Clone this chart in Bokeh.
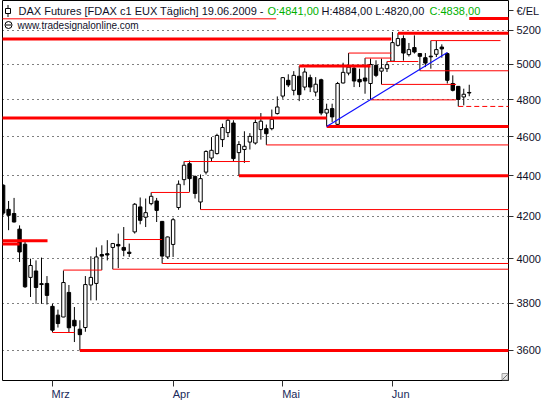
import math
import pandas as pd
from bokeh.plotting import figure
from bokeh.models import Range1d, FixedTicker, Label, ColumnDataSource, LinearAxis
from bokeh.embed import file_html
from bokeh.resources import INLINE

# ---------------- data ----------------
holidays = ["2009-04-10", "2009-04-13", "2009-05-01"]
dates = [d for d in pd.bdate_range("2009-02-17", "2009-06-19")
         if d.strftime("%Y-%m-%d") not in holidays]

opens = [4352, 4233, 4213, 4138, 4067, 3915, 3944, 3887, 3888, 3787,
         3749, 3741, 3848, 3727, 3689, 3696, 3881, 3888, 4019, 4023,
         4052, 4066, 4052, 4030, 4125, 4245, 4195, 4261, 4274, 4175,
         4008, 4066, 4242, 4380, 4461, 4396, 4269, 4418, 4490, 4513,
         4586, 4623, 4674, 4518, 4534, 4573, 4568, 4639, 4644, 4644,
         4725, 4821, 4909, 4853, 4932, 4871, 4924, 4843, 4912, 4728,
         4752, 4667, 4894, 4950, 4978, 4914, 4922, 4891, 4994, 4961,
         4975, 5018, 5110, 5150, 5056, 5097, 5062, 5038, 5047, 5058,
         5100, 5062, 4891, 4875, 4816, 4841]
highs = [4357, 4274, 4289, 4156, 4086, 4000, 3992, 4005, 3921, 3798,
         3773, 3946, 3881, 3784, 3727, 3921, 4011, 4052, 4062, 4086,
         4073, 4117, 4148, 4070, 4264, 4291, 4286, 4316, 4289, 4177,
         4103, 4192, 4376, 4473, 4477, 4401, 4406, 4530, 4599, 4617,
         4671, 4698, 4689, 4578, 4630, 4620, 4693, 4728, 4666, 4747,
         4819, 4927, 4943, 4961, 4990, 4978, 4941, 4927, 4918, 4779,
         4779, 4900, 5009, 5065, 4984, 4975, 5036, 5033, 5023, 5033,
         5016, 5189, 5182, 5169, 5124, 5169, 5064, 5065, 5138, 5136,
         5116, 5068, 4937, 4877, 4862, 4884]
lows = [4204, 4133, 4170, 3985, 3868, 3828, 3798, 3798, 3795, 3676,
        3696, 3740, 3673, 3635, 3600, 3678, 3813, 3813, 3948, 3992,
        3952, 3957, 4011, 4008, 4117, 4161, 4148, 4253, 4172, 3978,
        4000, 4008, 4231, 4352, 4319, 4286, 4232, 4406, 4473, 4508,
        4547, 4599, 4473, 4400, 4465, 4534, 4560, 4586, 4558, 4635,
        4720, 4806, 4871, 4825, 4793, 4853, 4843, 4819, 4716, 4656,
        4680, 4662, 4891, 4937, 4871, 4871, 4834, 4800, 4927, 4886,
        4956, 5016, 5103, 5021, 5045, 5062, 4963, 4984, 4975, 5042,
        5038, 4891, 4847, 4764, 4770, 4820]
closes = [4215, 4204, 4172, 4031, 3873, 3969, 3870, 3883, 3835, 3685,
          3713, 3892, 3695, 3703, 3666, 3883, 3915, 4008, 4012, 4017,
          4070, 4059, 4039, 4024, 4258, 4180, 4217, 4297, 4228, 4012,
          4101, 4183, 4357, 4453, 4385, 4311, 4385, 4524, 4530, 4608,
          4650, 4689, 4487, 4560, 4551, 4603, 4677, 4684, 4617, 4694,
          4761, 4924, 4883, 4937, 4829, 4956, 4871, 4887, 4728, 4748,
          4707, 4891, 4954, 4984, 4905, 4900, 4905, 4999, 4937, 4978,
          4998, 5126, 5150, 5065, 5085, 5071, 5046, 5007, 5043, 5085,
          5089, 4909, 4853, 4802, 4831, 4838]

# support / resistance levels: start bar, end bar, price, style
lvl_start = [-1, 85, -1, 72, 78, 63, 66, 70, 54, 76, 69, 67, 83, -1, 59, 48,
             33, 43, 27, 36, 22, -1, -1, 29, 20, 11, 9, 14]
lvl_end = [49.8, 92.5, 70.8, 92.5, 90.7, 70.8, 70.8, 75.7, 67, 92.5, 82.6, 82.6,
           92.5, 59, 92.5, 92.5, 45, 92.5, 34, 92.5, 29, 8.1, 3, 92.5,
           92.5, 18, 13, 92.5]
lvl_price = [5268, 5270, 5147, 5182, 5138, 5065, 5036, 5016, 4990, 4963, 4886,
             4800, 4764, 4701, 4656, 4558, 4472, 4400, 4316, 4232, 4089,
             4083, 4068, 3978, 3952, 3948, 3675, 3600]
lvl_style = ["thin", "thick", "thick", "thick", "thin", "thin", "thin", "thin",
             "thick", "thin", "thin", "thin", "dash", "thick", "thick",
             "thin", "thin", "thick", "thin", "thin", "thin", "thick",
             "thick", "thin", "thin", "thin", "thin", "thick"]

trend_bar = [59, 81]
trend_price = [4656, 5068]

y_ticks = [3600, 3800, 4000, 4200, 4400, 4600, 4800, 5000, 5200]
month_names = ["Mrz", "Apr", "Mai", "Jun"]
month_nums = [3, 4, 5, 6]

header_main = "DAX Futures [FDAX c1 EUX  Täglich] 19.06.2009 -"
header_open = "O:4841,00"
header_hl = "H:4884,00 L:4820,00"
header_close = "C:4838,00"
header_site = "www.tradesignalonline.com"
unit_label = "€/EL"

# ---------------- layout ----------------
X0, X1 = -0.11, 92.16
Y0, Y1 = 3478.0, 5380.0
FL, FW, FH = 2, 506, 380
FONT = "Liberation Sans"
TXT = "#101028"
LABEL_SHIFT = 1.5       # month names sit right of their tick
UNIT_POS = 5318         # y position of the unit caption on the price axis


def px2x(px):
    return X0 + (px - FL) / FW * (X1 - X0)


def py2y(py):
    return Y1 * math.exp(-py / FH * math.log(Y1 / Y0))


idx = list(range(len(dates)))
month_ticks = [next(i for i, d in enumerate(dates) if d.month == m) for m in month_nums]

p = figure(frame_width=FW, frame_height=FH,
           x_range=Range1d(X0, X1), y_range=Range1d(Y0, Y1),
           y_axis_type="log", y_axis_location="right",
           output_backend="svg", toolbar_location=None,
           min_border_left=FL, min_border_top=0,
           min_border_right=42, min_border_bottom=20)
p.background_fill_color = "white"
p.border_fill_color = "white"
p.outline_line_color = "black"
p.outline_line_width = 1

# grid
p.xgrid.grid_line_color = None
p.ygrid.ticker = FixedTicker(ticks=y_ticks)
p.ygrid.grid_line_color = "black"
p.ygrid.grid_line_dash = "1 4"
p.ygrid.grid_line_width = 1

# price axis
yax = p.yaxis[0]
yax.ticker = FixedTicker(ticks=y_ticks + [UNIT_POS])
overrides = {t: str(t) for t in y_ticks}
overrides[UNIT_POS] = unit_label
yax.major_label_overrides = overrides
yax.axis_line_color = None
yax.major_tick_in = 0
yax.major_tick_out = 5
yax.major_tick_line_color = "#303030"
yax.minor_tick_line_color = None
yax.major_label_standoff = 3
yax.major_label_text_font = FONT
yax.major_label_text_font_size = "11px"
yax.major_label_text_color = TXT

# date axis: tick marks only
xax = p.xaxis[0]
xax.ticker = FixedTicker(ticks=month_ticks)
xax.axis_line_color = None
xax.major_tick_in = 0
xax.major_tick_out = 6
xax.major_tick_line_color = "#303030"
xax.minor_tick_line_color = None
xax.major_label_standoff = 0
xax.major_label_text_font_size = "0px"
xax.major_label_text_color = None

# date axis: month names, left-aligned next to the ticks
lab_pos = [m + LABEL_SHIFT for m in month_ticks]
xlab = LinearAxis(ticker=FixedTicker(ticks=lab_pos),
                  major_label_overrides={pos: n for pos, n in zip(lab_pos, month_names)},
                  axis_line_color=None, major_tick_in=0, major_tick_out=0,
                  minor_tick_line_color=None, major_label_standoff=1,
                  major_label_text_font=FONT, major_label_text_font_size="11px",
                  major_label_text_color="#1a2a5a")
p.add_layout(xlab, "below")

# candles
up = [c >= o for o, c in zip(opens, closes)]
src = ColumnDataSource(dict(
    x=idx, low=lows, high=highs,
    top=[max(o, c) for o, c in zip(opens, closes)],
    bottom=[min(o, c) for o, c in zip(opens, closes)],
    fill=["white" if u else "black" for u in up],
))
p.segment(x0="x", y0="low", x1="x", y1="high", source=src, line_color="black", line_width=1)
p.vbar(x="x", width=0.62, top="top", bottom="bottom", source=src,
       fill_color="fill", line_color="black", line_width=1)

# levels
for style, width, dash in (("thin", 1, "solid"), ("dash", 1, "5 3"), ("thick", 3, "solid")):
    sel = [i for i, s in enumerate(lvl_style) if s == style]
    ls = ColumnDataSource(dict(
        s=[lvl_start[i] for i in sel], e=[lvl_end[i] for i in sel],
        v=[lvl_price[i] for i in sel]))
    p.segment(x0="s", y0="v", x1="e", y1="v", source=ls,
              line_color="#ff0000", line_width=width, line_dash=dash)

# trend line
p.line(x=trend_bar, y=trend_price, line_color="#1010ff", line_width=1.2)

# small header icons (candle symbol and web symbol) and the corner grip
p.segment(x0=[px2x(7.5)], y0=[py2y(4.5)], x1=[px2x(7.5)], y1=[py2y(16.5)],
          line_color="black", line_width=1)
p.quad(left=[px2x(5)], right=[px2x(10)], top=[py2y(8)], bottom=[py2y(13)],
       fill_color="white", line_color="black", line_width=1)
p.scatter(x=[px2x(8)], y=[py2y(24.5)], marker="circle", size=7,
          fill_color=None, line_color="black", line_width=1)
p.segment(x0=[px2x(5.5)], y0=[py2y(24.5)], x1=[px2x(10.5)], y1=[py2y(24.5)],
          line_color="black", line_width=1)
p.quad(left=[px2x(501.5)], right=[px2x(507.5)], top=[py2y(373)], bottom=[py2y(379.5)],
       fill_color="#e6e6e6", line_color="#a0a0a0", line_width=1)
p.segment(x0=[px2x(502)], y0=[py2y(379)], x1=[px2x(507)], y1=[py2y(374)],
          line_color="#707070", line_width=1)


# header texts
def lab(text, px, py, color=TXT, size="11px"):
    p.add_layout(Label(x=px2x(px), y=py2y(py), text=text, text_font=FONT,
                       text_font_size=size, text_color=color,
                       text_align="left", text_baseline="middle"))


lab(header_main, 18, 10)
lab(header_open, 267, 10, color="#00b000")
lab(header_hl, 321, 10)
lab(header_close, 429, 10, color="#00b000")
lab(header_site, 17, 25, size="10px")

open("out.html", "w").write(file_html(p, INLINE))
